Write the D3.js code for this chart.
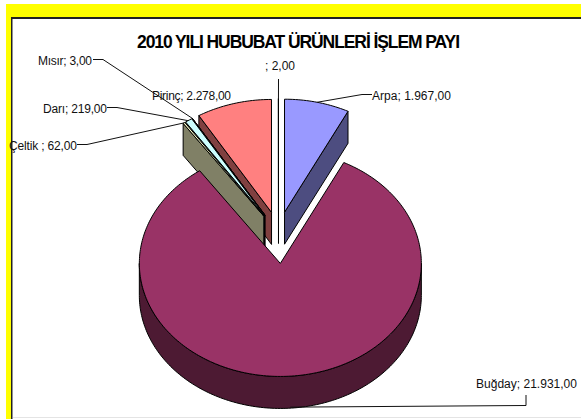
<!DOCTYPE html>
<html><head><meta charset="utf-8">
<script src="https://cdnjs.cloudflare.com/ajax/libs/d3/7.8.5/d3.min.js"></script>
<style>html,body{margin:0;padding:0;background:#fff}svg{display:block}text{font-family:"Liberation Sans",Arial,sans-serif}</style>
</head><body><div id="c"></div>
<script>
const title = "2010 YILI HUBUBAT ÜRÜNLERİ İŞLEM PAYI";
const categories = ["Arpa","Buğday","Çeltik ","Darı","Mısır","Pirinç",""];
const values = [1967,21931,62,219,3,2278,2];
const topColors = ["#9999FF","#993366","#FFFFCC","#CCFFFF","#660066","#FF8080","#0066CC"];
const sideColors = ["#4D4D80","#4D1A33","#808066","#668080","#330033","#804040","#003366"];
const drawOrder = [6,0,5,4,3,2,1];

const W=581,H=419;
const cx=278.5, cy=237.5, rx=141, ry=113, depth=32, ex=26;
const svg=d3.select("#c").append("svg").attr("width",W).attr("height",H);

// frame
svg.append("rect").attr("x",6).attr("y",4).attr("width",W-6).attr("height",H-4).attr("fill","#FFFF00");
svg.append("rect").attr("x",11).attr("y",17).attr("width",W-11).attr("height",H-17).attr("fill","#222");
svg.append("rect").attr("x",12.5).attr("y",19).attr("width",W-12.5).attr("height",H-19).attr("fill","#fff");
svg.append("line").attr("x1",13).attr("x2",W).attr("y1",417.5).attr("y2",417.5).attr("stroke","#e4e4e4");

const fmt=d3.formatLocale({decimal:",",thousands:".",grouping:[3]}).format(",.2f");
const arcs=d3.pie().value((d,i)=>values[i]).sort(null)(categories);

const px=d3.scaleLinear().domain([-1,1]).range([-rx,rx]);
const py=d3.scaleLinear().domain([-1,1]).range([-ry,ry]);
const line=d3.line();
function centre(a){const m=(a.startAngle+a.endAngle)/2;
  return [cx+ex*Math.sin(m),cy-ex*Math.cos(m)];}
function pt(c,t,dy=0){return [c[0]+px(Math.sin(t)),c[1]-py(Math.cos(t))+dy];}
function rim(c,t0,t1,dy=0){
  const n=Math.max(2,Math.ceil((t1-t0)/0.02));
  return d3.range(n+1).map(i=>pt(c,t0+(t1-t0)*i/n,dy));
}
const g=svg.append("g").attr("stroke","#000").attr("stroke-width",1).attr("stroke-linejoin","round");
drawOrder.forEach(i=>{
  const a=arcs[i], c=centre(a), t0=a.startAngle, t1=a.endAngle;
  const low=[c[0],c[1]+depth];
  // radial walls: only those facing the viewer
  if(Math.sin(t0)<0) g.append("path").attr("fill",sideColors[i]).attr("d",line([c,pt(c,t0),pt(c,t0,depth),low])+"Z");
  if(Math.sin(t1)>0) g.append("path").attr("fill",sideColors[i]).attr("d",line([c,pt(c,t1),pt(c,t1,depth),low])+"Z");
  // outer wall: only the front-facing part of the rim
  const fa=Math.max(t0,Math.PI/2), fb=Math.min(t1,3*Math.PI/2);
  if(fb>fa){
    const top=rim(c,fa,fb), bot=rim(c,fa,fb,depth).reverse();
    g.append("path").attr("fill",sideColors[i]).attr("d",line(top.concat(bot))+"Z");
  }
  // top face
  g.append("path").attr("fill",topColors[i]).attr("d",line([c].concat(rim(c,t0,t1)))+"Z");
});

const lead=svg.append("g").attr("fill","none").attr("stroke","#111").attr("stroke-width",1);
function leaderFrom(i,frac,pts,dy=0){ // starts on the slice rim
  const a=arcs[i], c=centre(a);
  const start=pt(c,a.startAngle+(a.endAngle-a.startAngle)*frac,dy);
  lead.append("path").attr("d",line([start].concat(pts)));
}
leaderFrom(0,0.5,[[362,94.5],[372,94.5]]);
leaderFrom(1,0.5,[[526,405.5],[526,395]],depth-1);
leaderFrom(2,0.5,[[87,144.5],[77,144.5]]);
leaderFrom(3,0.4,[[117,107.5],[107,107.5]]);
leaderFrom(4,0.5,[[103,59.5],[93,59.5]]);
leaderFrom(6,0.5,[[278.5,79]]);

const lab=svg.append("g").attr("font-size",12).attr("fill","#111");
function label(i,x,y,len){
  lab.append("text").attr("x",x).attr("y",y)
    .attr("textLength",len).attr("lengthAdjust","spacing")
    .text(categories[i]+"; "+fmt(values[i]));
}
label(0,372,100,79);
label(1,476,388,101);
label(2,9,150,68);
label(3,43,113,64);
label(4,38,65,54);
label(5,152,100,79);
label(6,265,70,30);

svg.append("text").attr("x",137).attr("y",48)
  .attr("textLength",323).attr("lengthAdjust","spacing")
  .attr("font-size",17.5).attr("font-weight","bold").attr("fill","#000").text(title);
</script></body></html>
